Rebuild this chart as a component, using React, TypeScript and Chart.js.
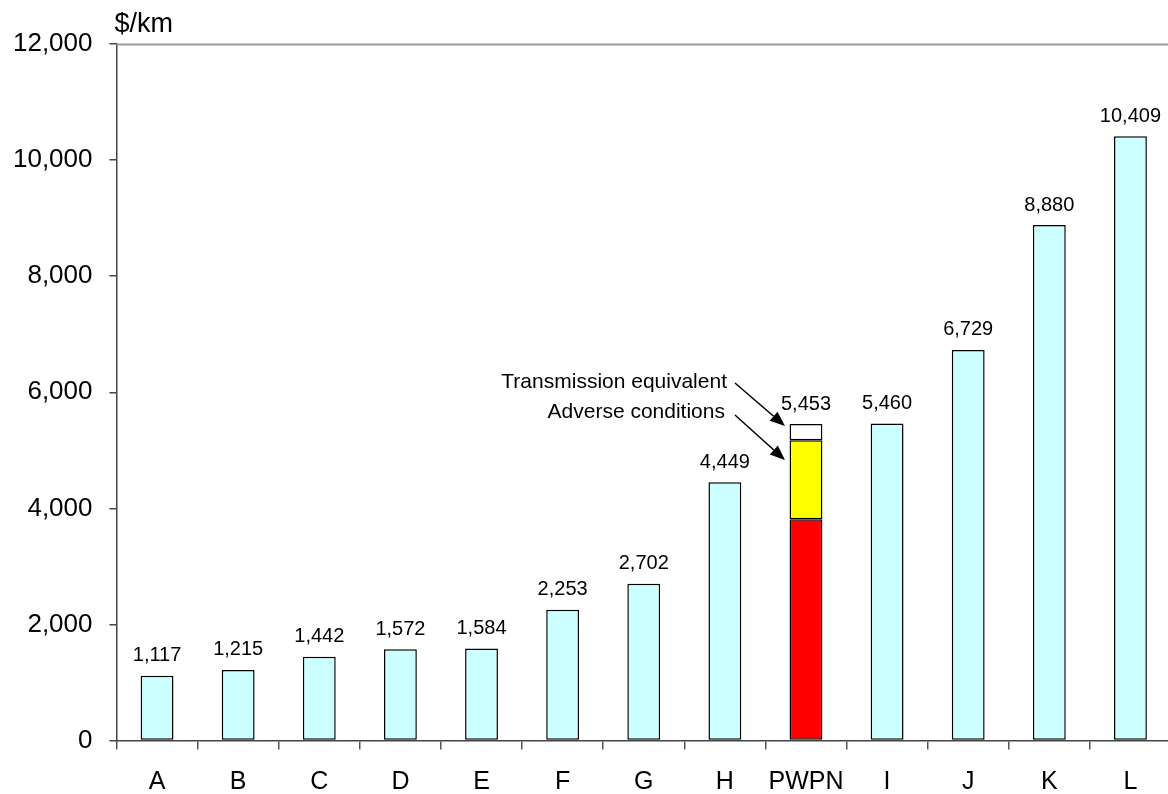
import React, { useEffect, useRef } from "react";
import { Chart, registerables } from "chart.js";

Chart.register(...registerables);

const categories = ["A", "B", "C", "D", "E", "F", "G", "H", "PWPN", "I", "J", "K", "L"];
// Base series (PWPN entry = its base / red component)
const baseValues = [1117, 1215, 1442, 1572, 1584, 2253, 2702, 4449, 3811, 5460, 6729, 8880, 10409];
const adverseValues = [null, null, null, null, null, null, null, null, 1361, null, null, null, null];
const transmissionValues = [null, null, null, null, null, null, null, null, 281, null, null, null, null];
const yTicks = [0, 2000, 4000, 6000, 8000, 10000, 12000];
const highlightLabel = "PWPN";
const annotations = ["Transmission equivalent", "Adverse conditions"];
const unitLabel = "$/km";

const FONT = "'Liberation Sans', Arial, Helvetica, sans-serif";

export default function App() {
  const ref = useRef<HTMLCanvasElement | null>(null);

  useEffect(() => {
    document.body.style.margin = "0";
    document.body.style.overflow = "hidden";
    const canvas = ref.current;
    if (!canvas) return;

    const labelsPlugin = {
      id: "customLabels",
      afterDraw(chart: any) {
        const ctx = chart.ctx;
        const xs = chart.scales.x;
        const ys = chart.scales.y;
        ctx.save();
        // top border line
        ctx.strokeStyle = "#9a9a9a";
        ctx.lineWidth = 2;
        ctx.beginPath();
        ctx.moveTo(chart.chartArea.left, Math.round(ys.getPixelForValue(12000)) + 0.5);
        ctx.lineTo(chart.width, Math.round(ys.getPixelForValue(12000)) + 0.5);
        ctx.stroke();

        // value labels
        ctx.fillStyle = "#000";
        ctx.font = `20px ${FONT}`;
        ctx.textAlign = "center";
        ctx.textBaseline = "middle";
        categories.forEach((c, i) => {
          const total =
            (baseValues[i] || 0) + (adverseValues[i] || 0) + (transmissionValues[i] || 0);
          const x = xs.getPixelForValue(i);
          const y = ys.getPixelForValue(total);
          ctx.fillText(total.toLocaleString("en-US"), x, y - 20);
        });

        // unit label
        ctx.font = `27px ${FONT}`;
        ctx.textAlign = "left";
        ctx.fillText(unitLabel, chart.chartArea.left - 2, 25);

        // annotations with arrows
        const hi = categories.indexOf(highlightLabel);
        const bx = xs.getPixelForValue(hi);
        const top = ys.getPixelForValue(
          baseValues[hi] + (adverseValues[hi] || 0) + (transmissionValues[hi] || 0)
        );
        ctx.font = `21px ${FONT}`;
        ctx.textAlign = "right";
        ctx.fillText(annotations[0], bx - 79, top - 42);
        ctx.fillText(annotations[1], bx - 81, top - 12);

        const arrow = (x1: number, y1: number, x2: number, y2: number) => {
          ctx.strokeStyle = "#000";
          ctx.lineWidth = 1.5;
          const ang = Math.atan2(y2 - y1, x2 - x1);
          const hl = 15;
          const hw = 6;
          const bx2 = x2 - hl * Math.cos(ang);
          const by2 = y2 - hl * Math.sin(ang);
          ctx.beginPath();
          ctx.moveTo(x1, y1);
          ctx.lineTo(bx2, by2);
          ctx.stroke();
          ctx.fillStyle = "#000";
          ctx.beginPath();
          ctx.moveTo(x2, y2);
          ctx.lineTo(bx2 + hw * Math.sin(ang), by2 - hw * Math.cos(ang));
          ctx.lineTo(bx2 - hw * Math.sin(ang), by2 + hw * Math.cos(ang));
          ctx.closePath();
          ctx.fill();
        };
        arrow(bx - 71, top - 41, bx - 21, top + 2);
        arrow(bx - 71, top - 9, bx - 21, top + 36);
        ctx.restore();
      },
    };

    const baseColors = categories.map((c) => (c === highlightLabel ? "#FF0000" : "#CCFFFF"));

    const common = {
      borderColor: "#000",
      borderWidth: 1.5,
      borderSkipped: false,
      barPercentage: 0.405,
      categoryPercentage: 1,
    };

    const chart = new Chart(canvas, {
      type: "bar",
      data: {
        labels: categories,
        datasets: [
          { label: "Base", data: baseValues, backgroundColor: baseColors, ...common },
          { label: "Adverse conditions", data: adverseValues, backgroundColor: "#FFFF00", ...common },
          {
            label: "Transmission equivalent",
            data: transmissionValues,
            backgroundColor: "#FFFFFF",
            ...common,
          },
        ],
      },
      options: {
        responsive: false,
        animation: false,
        layout: { padding: { top: 44, right: 9, left: 0, bottom: 0 } },
        plugins: {
          legend: { display: false },
          tooltip: { enabled: false },
          title: { display: false },
        },
        scales: {
          x: {
            stacked: true,
            grid: {
              display: true,
              offset: true,
              drawOnChartArea: false,
              tickLength: 9,
              color: "#555",
              lineWidth: 1.5,
            },
            border: { display: true, color: "#444", width: 1.5 },
            ticks: {
              color: "#000",
              font: { family: FONT, size: 25 },
              padding: 18,
              maxRotation: 0,
              autoSkip: false,
            },
            afterFit(scale: any) {
              scale.height = 53.5;
            },
          },
          y: {
            stacked: true,
            min: 0,
            max: 12000,
            afterBuildTicks(scale: any) {
              scale.ticks = yTicks.map((v) => ({ value: v }));
            },
            grid: {
              display: true,
              drawOnChartArea: false,
              tickLength: 7,
              color: "#444",
              lineWidth: 1.5,
            },
            border: { display: true, color: "#444", width: 1.5 },
            ticks: {
              color: "#000",
              font: { family: FONT, size: 26 },
              padding: 17,
              callback: (v: any) => Number(v).toLocaleString("en-US"),
            },
            afterFit(scale: any) {
              scale.width = 116.5;
            },
          },
        },
      },
      plugins: [labelsPlugin],
    });

    return () => chart.destroy();
  }, []);

  return (
    <div style={{ width: 1168, height: 794, overflow: "hidden" }}>
      <canvas ref={ref} width={1180} height={794} style={{ display: "block" }} />
    </div>
  );
}
